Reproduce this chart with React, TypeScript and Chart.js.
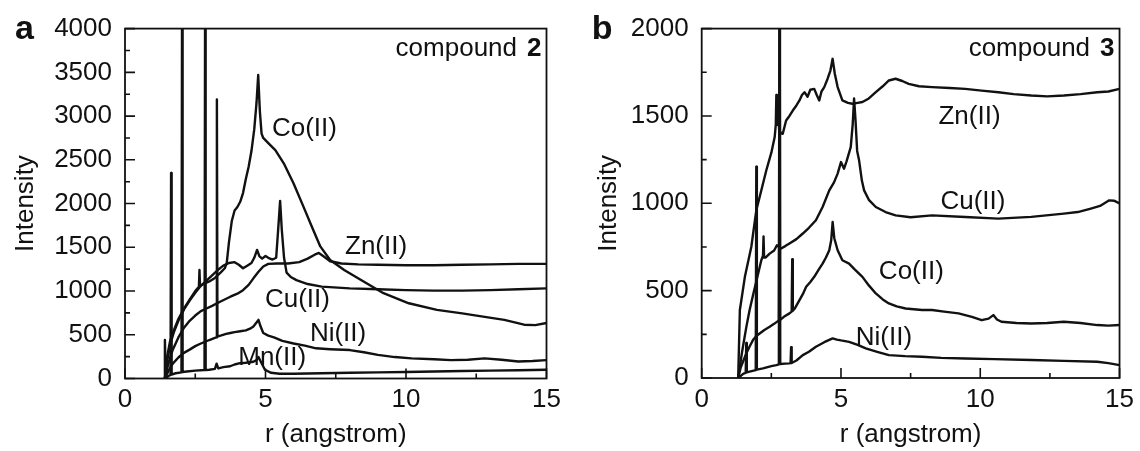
import React, { useEffect, useRef } from 'react';
import { Chart, registerables } from 'chart.js';
Chart.register(...registerables);

const FONT = '"Liberation Sans", Arial, Helvetica, sans-serif';
const INK = '#111';

// ---------- Panel a : compound 2 ----------
const aCoR = [1.42, 1.5, 1.6, 1.75, 1.9, 2.1, 2.3, 2.5, 2.63, 2.65, 2.67, 2.8, 3.0, 3.2, 3.4, 3.55, 3.62, 3.7, 3.8, 3.9, 4.0, 4.1, 4.2, 4.3, 4.4, 4.5, 4.6, 4.68, 4.74, 4.8, 4.86, 4.92, 5.1, 5.35, 5.65, 6.0, 6.35, 6.65, 6.95, 7.3, 7.8, 8.4, 9.2, 10.1, 11.1, 12.0, 12.8, 13.5, 14.2, 14.6, 15.0];
const aCoI = [0, 250, 420, 560, 680, 800, 900, 1000, 1050, 1240, 1060, 1080, 1110, 1150, 1210, 1260, 1320, 1560, 1800, 1920, 1960, 2020, 2120, 2280, 2420, 2600, 2850, 3150, 3470, 3050, 2800, 2750, 2690, 2610, 2460, 2230, 1965, 1735, 1510, 1355, 1240, 1125, 975, 860, 785, 745, 705, 670, 615, 610, 635];

const aCuR = [1.42, 1.5, 1.6, 1.75, 1.9, 2.1, 2.3, 2.5, 2.7, 2.9, 3.1, 3.3, 3.5, 3.7, 3.9, 4.05, 4.2, 4.35, 4.5, 4.6, 4.7, 4.78, 4.88, 5.0, 5.1, 5.25, 5.38, 5.45, 5.52, 5.58, 5.66, 5.75, 5.9, 6.1, 6.5, 7.0, 8.0, 9.0, 10.0, 11.0, 12.0, 13.0, 14.0, 15.0];
const aCuI = [0, 200, 380, 540, 660, 790, 890, 980, 1060, 1120, 1180, 1240, 1290, 1320, 1330, 1300, 1260, 1290, 1320, 1380, 1470, 1400, 1370, 1400, 1380, 1360, 1380, 1700, 2030, 1700, 1380, 1210, 1160, 1125, 1080, 1050, 1030, 1020, 1010, 1005, 1005, 1010, 1020, 1030];

const aZnR = [1.42, 1.55, 1.7, 1.9, 2.1, 2.3, 2.5, 2.7, 2.9, 3.1, 3.4, 3.75, 4.0, 4.2, 4.4, 4.57, 4.75, 4.92, 5.1, 5.4, 5.8, 6.2, 6.5, 6.75, 6.9, 7.05, 7.3, 7.7, 8.3, 9.0, 10.0, 11.0, 12.0, 13.0, 14.0, 15.0];
const aZnI = [0, 180, 330, 470, 580, 660, 720, 770, 800, 830, 880, 935, 970, 1010, 1070, 1145, 1220, 1280, 1310, 1315, 1315, 1330, 1370, 1415, 1435, 1400, 1340, 1315, 1305, 1300, 1295, 1295, 1300, 1305, 1310, 1310];

const aNiR = [1.4, 1.42, 1.45, 1.55, 1.7, 1.9, 2.08, 2.3, 2.5, 2.7, 3.0, 3.2, 3.25, 3.27, 3.29, 3.4, 3.6, 3.75, 3.9, 4.1, 4.3, 4.45, 4.57, 4.68, 4.75, 4.82, 4.92, 5.1, 5.3, 5.6, 6.0, 6.4, 6.8, 7.3, 8.0, 8.5, 9.0, 9.6, 10.2, 11.0, 11.6, 12.2, 12.8, 13.4, 14.0, 14.5, 15.0];
const aNiI = [0, 440, 20, 90, 170, 240, 290, 330, 370, 400, 440, 465, 470, 3190, 480, 490, 510, 520, 530, 540, 550, 570, 595, 640, 670, 600, 520, 490, 470, 430, 400, 375, 345, 335, 325, 300, 270, 245, 230, 220, 210, 215, 230, 215, 195, 200, 210];

const aMnR = [1.45, 1.55, 1.62, 1.64, 1.66, 1.8, 2.01, 2.03, 2.05, 2.2, 2.5, 2.83, 2.85, 2.87, 3.0, 3.2, 3.26, 3.32, 3.5, 3.74, 3.9, 4.09, 4.3, 4.57, 4.68, 4.75, 4.82, 4.98, 5.2, 5.5, 6.0, 7.0, 8.0, 9.0, 10.0, 11.0, 12.0, 13.0, 14.0, 15.0];
const aMnI = [0, 30, 40, 2350, 45, 60, 70, 4300, 75, 80, 90, 97, 4300, 97, 100, 110, 170, 115, 130, 140, 160, 175, 180, 192, 210, 245, 200, 100, 65, 55, 55, 60, 65, 70, 75, 80, 85, 90, 95, 100];

const aLabelText = ['Co(II)', 'Zn(II)', 'Cu(II)', 'Ni(II)', 'Mn(II)'];
const aLabelR = [5.23, 7.83, 4.98, 6.58, 4.03];
const aLabelI = [2851, 1503, 897, 509, 234];

// ---------- Panel b : compound 3 ----------
const bZnR = [1.31, 1.37, 1.55, 1.78, 1.96, 2.15, 2.32, 2.5, 2.62, 2.66, 2.68, 2.7, 2.73, 2.78, 2.85, 2.91, 3.03, 3.15, 3.27, 3.4, 3.51, 3.6, 3.69, 3.8, 3.9, 4.04, 4.13, 4.22, 4.3, 4.4, 4.52, 4.62, 4.7, 4.78, 4.88, 5.05, 5.25, 5.41, 5.6, 5.77, 6.0, 6.25, 6.5, 6.72, 6.96, 7.2, 7.43, 7.8, 8.27, 8.9, 9.46, 10.05, 10.65, 11.2, 11.83, 12.4, 13.0, 13.6, 14.2, 14.6, 15.0];
const bZnI = [0, 389, 579, 750, 960, 1080, 1189, 1290, 1379, 1450, 1620, 1450, 1600, 1420, 1400, 1398, 1474, 1500, 1531, 1560, 1589, 1620, 1636, 1610, 1650, 1655, 1620, 1589, 1640, 1665, 1713, 1760, 1827, 1740, 1665, 1589, 1575, 1570, 1575, 1580, 1600, 1636, 1670, 1703, 1713, 1700, 1684, 1670, 1665, 1660, 1655, 1645, 1636, 1625, 1617, 1612, 1617, 1625, 1636, 1640, 1655];

const bCuR = [1.31, 1.45, 1.6, 1.72, 1.85, 2.0, 2.14, 2.2, 2.22, 2.24, 2.3, 2.44, 2.6, 2.7, 2.85, 3.0, 3.15, 3.4, 3.63, 3.85, 4.1, 4.34, 4.58, 4.75, 4.88, 5.0, 5.11, 5.2, 5.35, 5.42, 5.47, 5.52, 5.58, 5.65, 5.75, 5.83, 6.0, 6.25, 6.6, 6.96, 7.5, 8.27, 9.46, 10.65, 11.83, 13.0, 13.5, 13.97, 14.3, 14.63, 14.8, 15.0];
const bCuI = [0, 150, 290, 389, 480, 580, 674, 700, 810, 690, 690, 712, 730, 760, 741, 755, 770, 795, 827, 860, 903, 979, 1074, 1120, 1170, 1236, 1198, 1240, 1322, 1450, 1600, 1480, 1300, 1246, 1130, 1074, 1020, 979, 950, 931, 920, 931, 922, 912, 922, 941, 950, 970, 985, 1017, 1015, 1000];

const bCoR = [1.31, 1.4, 1.5, 1.6, 1.72, 1.84, 1.96, 2.08, 2.25, 2.44, 2.6, 2.77, 2.79, 2.81, 2.95, 3.15, 3.23, 3.25, 3.27, 3.35, 3.51, 3.63, 3.75, 3.9, 4.04, 4.2, 4.34, 4.46, 4.58, 4.65, 4.7, 4.76, 4.88, 5.05, 5.29, 5.5, 5.77, 6.0, 6.25, 6.5, 6.72, 7.0, 7.32, 7.91, 8.27, 8.7, 9.22, 9.7, 10.05, 10.3, 10.47, 10.6, 10.76, 11.3, 11.83, 12.4, 13.0, 13.6, 14.2, 14.6, 15.0];
const bCoI = [0, 60, 100, 141, 180, 217, 240, 255, 275, 293, 310, 330, 2200, 332, 350, 370, 380, 680, 385, 400, 446, 480, 522, 550, 579, 620, 655, 690, 731, 790, 893, 800, 731, 674, 655, 620, 579, 530, 484, 450, 427, 410, 398, 389, 389, 380, 370, 350, 331, 340, 360, 335, 322, 315, 312, 315, 322, 315, 303, 300, 303];

const bNiR = [1.31, 1.5, 1.58, 1.6, 1.62, 1.72, 1.94, 1.96, 1.98, 2.2, 2.5, 2.68, 2.77, 2.8, 2.82, 3.0, 3.15, 3.19, 3.21, 3.23, 3.4, 3.63, 3.85, 4.1, 4.4, 4.7, 4.85, 5.0, 5.29, 5.6, 5.89, 6.3, 6.72, 7.3, 7.91, 8.6, 9.46, 10.5, 11.83, 13.0, 14.2, 14.6, 15.0];
const bNiI = [0, 25, 30, 200, 32, 36, 45, 1210, 48, 55, 68, 74, 78, 2200, 80, 82, 84, 85, 177, 86, 100, 131, 150, 179, 205, 227, 220, 215, 207, 190, 170, 150, 131, 125, 122, 115, 112, 108, 103, 98, 93, 85, 74];

const bLabelText = ['Zn(II)', 'Cu(II)', 'Co(II)', 'Ni(II)'];
const bLabelR = [8.5, 8.57, 6.36, 5.53];
const bLabelI = [1497, 1006, 606, 231];

const toPts = (r: number[], v: number[]) => r.map((x, i) => ({ x, y: v[i] }));

const decorPlugin = {
  id: 'decor',
  afterDatasetsDraw(chart: any, _args: any, opts: any) {
    const { ctx, chartArea: ca, scales } = chart;
    const xs = scales.x, ys = scales.y;
    ctx.save();
    ctx.strokeStyle = INK;
    ctx.lineWidth = 1.8;
    ctx.strokeRect(ca.left, ca.top, ca.right - ca.left, ca.bottom - ca.top);
    ctx.lineWidth = 1.6;
    ctx.beginPath();
    for (let k = 0; k * 2.5 <= xs.max + 1e-9; k++) {
      const v = k * 2.5;
      const px = xs.getPixelForValue(v);
      const len = k % 2 === 0 ? 10 : 5;
      ctx.moveTo(px, ca.bottom);
      ctx.lineTo(px, ca.bottom - len);
    }
    for (let k = 0; k * 250 <= ys.max + 1e-9; k++) {
      const v = k * 250;
      const py = ys.getPixelForValue(v);
      const len = k % 2 === 0 ? 10 : 5;
      ctx.moveTo(ca.left, py);
      ctx.lineTo(ca.left + len, py);
    }
    ctx.stroke();

    ctx.fillStyle = INK;
    ctx.font = `26px ${FONT}`;
    ctx.textAlign = 'left';
    ctx.textBaseline = 'middle';
    const lt: string[] = opts.labelText;
    for (let i = 0; i < lt.length; i++) {
      ctx.fillText(lt[i], xs.getPixelForValue(opts.labelR[i]), ys.getPixelForValue(opts.labelI[i]));
    }

    // compound caption
    ctx.textAlign = 'right';
    ctx.font = `bold 26px ${FONT}`;
    const num = opts.compound;
    const w2 = ctx.measureText(num).width;
    ctx.fillText(num, ca.right - 5, 49);
    ctx.font = `26px ${FONT}`;
    ctx.fillText('compound', ca.right - 5 - w2 - 10, 49);

    // panel letter
    ctx.textAlign = 'left';
    ctx.textBaseline = 'alphabetic';
    ctx.font = `bold 34px ${FONT}`;
    ctx.fillText(opts.letter, opts.letterX, 39);
    ctx.restore();
  },
};

function makeConfig(p: any) {
  const mk = (d: any) => ({
    data: d,
    borderColor: INK,
    borderWidth: 2.4,
    borderJoinStyle: 'round',
    borderCapStyle: 'round',
    pointRadius: 0,
    fill: false,
    tension: 0,
  });
  return {
    type: 'line',
    data: { datasets: p.series.map((s: any) => mk(toPts(s[0], s[1]))) },
    plugins: [decorPlugin],
    options: {
      animation: false,
      responsive: false,
      devicePixelRatio: 1,
      layout: { padding: { left: 0, right: p.padRight, top: p.padTop, bottom: 0 } },
      plugins: {
        legend: { display: false },
        tooltip: { enabled: false },
        decor: {
          labelText: p.labelText,
          labelR: p.labelR,
          labelI: p.labelI,
          compound: p.compound,
          letter: p.letter,
          letterX: p.letterX,
        },
      },
      scales: {
        x: {
          type: 'linear',
          min: 0,
          max: 15,
          grid: { display: false, drawTicks: false },
          border: { display: false },
          ticks: { stepSize: 5, color: INK, font: { size: 26, family: FONT }, padding: 6, maxRotation: 0, callback: (v: any) => String(v) },
          title: { display: true, text: 'r (angstrom)', color: INK, font: { size: 26, family: FONT }, padding: { top: 0, bottom: 0.5 } },
          afterFit: (s: any) => { s.height = p.xHeight; },
        },
        y: {
          type: 'linear',
          min: 0,
          max: p.yMax,
          grid: { display: false, drawTicks: false },
          border: { display: false },
          ticks: { stepSize: 500, color: INK, font: { size: 26, family: FONT }, padding: 13, callback: (v: any) => String(v) },
          title: { display: true, text: 'Intensity', color: INK, font: { size: 26, family: FONT }, padding: { top: p.yTitlePad, bottom: 0 } },
          afterFit: (s: any) => { s.width = p.yWidth; },
        },
      },
    },
  };
}

const panelA = {
  series: [[aCoR, aCoI], [aCuR, aCuI], [aZnR, aZnI], [aNiR, aNiI], [aMnR, aMnI]],
  labelText: aLabelText, labelR: aLabelR, labelI: aLabelI,
  compound: '2', letter: 'a', letterX: 15,
  yMax: 4000, yWidth: 125, padRight: 23.5, padTop: 28.5, xHeight: 72.5, yTitlePad: 10,
};
const panelB = {
  series: [[bZnR, bZnI], [bCuR, bCuI], [bCoR, bCoI], [bNiR, bNiI]],
  labelText: bLabelText, labelR: bLabelR, labelI: bLabelI,
  compound: '3', letter: 'b', letterX: 21.7,
  yMax: 2000, yWidth: 131.7, padRight: 18, padTop: 28, xHeight: 73, yTitlePad: 23.4,
};

function Panel({ cfg, left }: { cfg: any; left: number }) {
  const ref = useRef<HTMLCanvasElement | null>(null);
  useEffect(() => {
    if (!ref.current) return;
    const chart = new Chart(ref.current, makeConfig(cfg) as any);
    return () => chart.destroy();
  }, [cfg]);
  return (
    <div style={{ position: 'absolute', left, top: 0, width: 570, height: 451 }}>
      <canvas ref={ref} width={570} height={451} style={{ display: 'block', width: 570, height: 451 }} />
    </div>
  );
}

export default function App() {
  useEffect(() => {
    document.body.style.margin = '0';
    document.body.style.background = '#fff';
  }, []);
  return (
    <div style={{ position: 'absolute', left: 0, top: 0, width: 1140, height: 451, background: '#fff', overflow: 'hidden' }}>
      <Panel cfg={panelA} left={0} />
      <Panel cfg={panelB} left={570} />
    </div>
  );
}
